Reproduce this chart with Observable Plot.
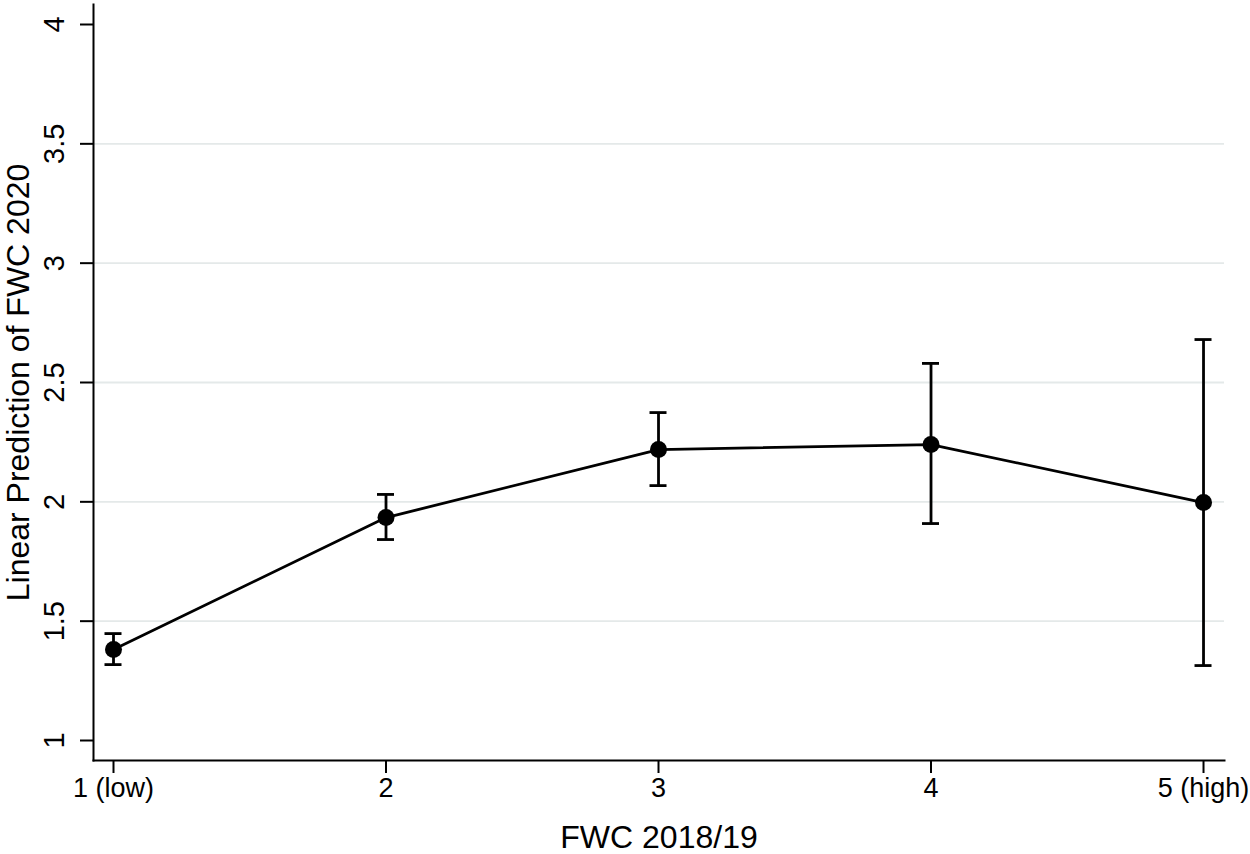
<!DOCTYPE html>
<html>
<head>
<meta charset="utf-8">
<script src="https://cdn.jsdelivr.net/npm/d3@7"></script>
<script src="https://cdn.jsdelivr.net/npm/@observablehq/plot@0.6"></script>
<style>
  html, body { margin: 0; padding: 0; background: #fff; }
  #chart svg { display: block; }
</style>
</head>
<body>
<div id="chart"></div>
<script>
// Data
const categories = ["1 (low)", "2", "3", "4", "5 (high)"];
const levels = [1, 2, 3, 4, 5];
const margins = [1.381, 1.934, 2.219, 2.240, 1.997];
const lower = [1.318, 1.842, 2.068, 1.909, 1.314];
const upper = [1.448, 2.031, 2.374, 2.580, 2.680];
const yTicks = [1, 1.5, 2, 2.5, 3, 3.5, 4];
const gridTicks = [1.5, 2, 2.5, 3, 3.5];
const xTitle = "FWC 2018/19";
const yTitle = "Linear Prediction of FWC 2020";

const rows = levels.map((lv, i) => ({level: lv, label: categories[i], m: margins[i], lo: lower[i], hi: upper[i]}));

const font = "'Liberation Sans', Arial, Helvetica, sans-serif";

const chart = Plot.plot({
  width: 1250,
  height: 854,
  marginLeft: 93,
  marginRight: 26,
  marginTop: 4,
  marginBottom: 94,
  style: {fontFamily: font, background: "#fff", color: "#000"},
  x: {type: "linear", domain: [0.9266, 5.077], axis: null},
  y: {type: "linear", domain: [0.9162, 4.0838], axis: null},
  marks: [
    Plot.gridY(gridTicks, {stroke: "#e4e9e9", strokeOpacity: 1, strokeWidth: 1.8}),
    // axis lines
    Plot.frame({anchor: "left", stroke: "#000", strokeWidth: 2}),
    Plot.frame({anchor: "bottom", stroke: "#000", strokeWidth: 2}),
    // y ticks
    Plot.axisY({ticks: yTicks, tickSize: 13, tickFormat: () => "", strokeWidth: 2, stroke: "#000", label: null}),
    Plot.text(yTicks, {y: d => d, text: d => String(d), frameAnchor: "left", dx: -39, rotate: -90, textAnchor: "middle", lineAnchor: "middle", fontSize: 29, fill: "#000"}),
    Plot.text([yTitle], {text: d => d, frameAnchor: "left", dx: -75, rotate: -90, textAnchor: "middle", lineAnchor: "middle", fontSize: 32, fill: "#000"}),
    // x axis
    Plot.axisX({ticks: levels, tickSize: 13, tickPadding: 4, tickFormat: d => categories[levels.indexOf(d)], fontSize: 27, label: null, strokeWidth: 2, stroke: "#000", fill: "#000"}),
    Plot.text([xTitle], {text: d => d, frameAnchor: "bottom", dy: 65, lineAnchor: "top", textAnchor: "middle", fontSize: 32, fill: "#000"}),
    // error bars
    Plot.ruleX(rows, {x: "level", y1: "lo", y2: "hi", stroke: "#000", strokeWidth: 2.8}),
    Plot.ruleY(rows, {y: "lo", x1: "level", x2: "level", insetLeft: -8.5, insetRight: -8.5, stroke: "#000", strokeWidth: 2.8}),
    Plot.ruleY(rows, {y: "hi", x1: "level", x2: "level", insetLeft: -8.5, insetRight: -8.5, stroke: "#000", strokeWidth: 2.8}),
    // line and points
    Plot.line(rows, {x: "level", y: "m", stroke: "#000", strokeWidth: 2.8}),
    Plot.dot(rows, {x: "level", y: "m", r: 8.5, fill: "#000", stroke: "none"})
  ]
});
document.getElementById("chart").append(chart);
</script>
</body>
</html>
